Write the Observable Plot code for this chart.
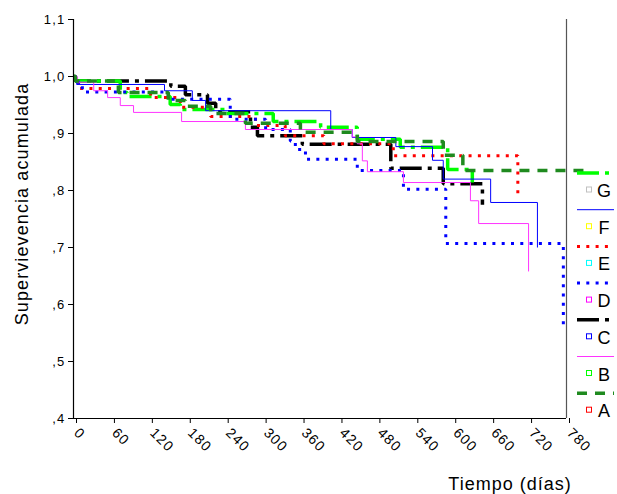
<!DOCTYPE html>
<html>
<head>
<meta charset="utf-8">
<script src="https://cdn.jsdelivr.net/npm/d3@7"></script>
<script src="https://cdn.jsdelivr.net/npm/@observablehq/plot@0.6"></script>
<style>
  html, body { margin: 0; padding: 0; background: #fff; }
  #chart { width: 617px; height: 494px; }
</style>
</head>
<body>
<div id="chart"></div>
<script>
// Kaplan-Meier steps: time (days) and cumulative survival
const groups = ["G", "F", "E", "D", "C", "B", "A"];
const A_t = [0, 3, 71, 150, 177, 217, 272, 359, 449, 585, 616, 807];
const A_s = [1.0, 0.992, 0.972, 0.958, 0.948, 0.935, 0.918, 0.902, 0.886, 0.862, 0.835, 0.835];
const B_t = [0, 6, 32, 54, 74, 95, 171, 272, 441, 449, 457, 465, 522, 628, 641, 720];
const B_s = [1.0, 0.99, 0.975, 0.963, 0.949, 0.937, 0.921, 0.907, 0.894, 0.882, 0.852, 0.833, 0.814, 0.782, 0.742, 0.658];
const C_t = [0, 3, 154, 177, 212, 225, 280, 291, 362, 502, 585, 647];
const C_s = [1.0, 0.992, 0.983, 0.968, 0.953, 0.938, 0.911, 0.896, 0.881, 0.839, 0.812, 0.775];
const D_t = [0, 8, 14, 150, 248, 304, 343, 351, 367, 449, 522, 589, 775];
const D_s = [1.0, 0.985, 0.973, 0.960, 0.925, 0.907, 0.887, 0.872, 0.855, 0.835, 0.802, 0.707, 0.56];
const E_t = [0, 8, 122, 169, 217, 288, 335, 396, 506, 703];
const E_s = [1.0, 0.979, 0.963, 0.946, 0.93, 0.914, 0.896, 0.882, 0.861, 0.795];
const F_t = [0, 5, 144, 188, 209, 407, 441, 510, 568, 585, 660, 734];
const F_s = [1.0, 0.986, 0.975, 0.958, 0.940, 0.907, 0.893, 0.877, 0.853, 0.82, 0.779, 0.70];
const G_t = [0, 3, 74, 85, 153, 169, 241, 316, 391, 449, 517, 592, 631];
const G_s = [1.0, 0.992, 0.972, 0.965, 0.951, 0.942, 0.935, 0.921, 0.911, 0.89, 0.876, 0.837, 0.814];
const xTicks = [0, 60, 120, 180, 240, 300, 360, 420, 480, 540, 600, 660, 720, 780];
const yTicks = [0.4, 0.5, 0.6, 0.7, 0.8, 0.9, 1.0, 1.1];

const series = {A: [A_t, A_s], B: [B_t, B_s], C: [C_t, C_s], D: [D_t, D_s], E: [E_t, E_s], F: [F_t, F_s], G: [G_t, G_s]};
const styles = {
  G: {stroke: "#00ff00", strokeWidth: 3.5, dash: "22,6,4,6", marker: "#c0c0c0"},
  F: {stroke: "#0000ff", strokeWidth: 1, dash: null, marker: "#ffff00"},
  E: {stroke: "#ff0000", strokeWidth: 3, dash: "3,6.3", marker: "#00ffff"},
  D: {stroke: "#0000ff", strokeWidth: 3, dash: "3,6.3", marker: "#ff00ff"},
  C: {stroke: "#000000", strokeWidth: 3.5, dash: "22,6,4,6", marker: "#0000ff"},
  B: {stroke: "#ff33ff", strokeWidth: 1, dash: null, marker: "#00ff00"},
  A: {stroke: "#1f8a1f", strokeWidth: 3.5, dash: "10,8", marker: "#ff0000"}
};
const drawOrder = ["C", "G", "E", "D", "F", "B", "A"];

const rows = k => series[k][0].map((t, i) => ({group: k, t, s: series[k][1][i]}));
const fmt = d => d.toFixed(1).replace(".", ",").replace(/^0/, "");

const plot = Plot.plot({
  width: 617,
  height: 494,
  marginLeft: 73,
  marginRight: 51,
  marginTop: 19,
  marginBottom: 76,
  style: {fontFamily: "'Liberation Sans', Arial, sans-serif", fontSize: "13px", color: "#000", background: "#fff", overflow: "visible"},
  x: {domain: [0, 780], label: null},
  y: {domain: [0.4, 1.1], label: null},
  marks: [
    Plot.axisY({ticks: yTicks, tickFormat: fmt, tickSize: 5, tickPadding: 3, fontSize: 13, label: null}),
    Plot.axisX({ticks: xTicks, tickFormat: d => String(d), tickSize: 5, tickPadding: 7, dx: 3, tickRotate: 45, textAnchor: "start", fontSize: 14, label: null}),
    ...drawOrder.map(k => Plot.line(rows(k), {
      x: "t", y: "s", curve: "step-after",
      stroke: styles[k].stroke, strokeWidth: styles[k].strokeWidth,
      strokeDasharray: styles[k].dash, strokeLinecap: "butt", strokeLinejoin: "miter"
    })),
    Plot.ruleX([0], {stroke: "#000", strokeWidth: 1.2}),
    Plot.ruleX([780], {stroke: "#555", strokeWidth: 1.2}),
    Plot.ruleY([0.4], {stroke: "#000", strokeWidth: 1.2})
  ]
});

document.getElementById("chart").appendChild(plot);

const svg = d3.select(plot);
svg.selectAll("g[aria-label='y-axis tick label'] text, g[aria-label='x-axis tick label'] text")
  .attr("letter-spacing", 1.2);
svg.append("text")
  .attr("transform", "translate(28,204) rotate(-90)")
  .attr("text-anchor", "middle")
  .attr("font-size", 18)
  .attr("letter-spacing", 1.1)
  .attr("fill", "#000")
  .text("Supervievencia acumulada");
svg.append("text")
  .attr("x", 510).attr("y", 490)
  .attr("text-anchor", "middle")
  .attr("font-size", 18)
  .attr("letter-spacing", 1)
  .attr("fill", "#000")
  .text("Tiempo (días)");

// legend (SPSS style: line sample, then censor marker and label)
const leg = svg.append("g");
groups.forEach((k, i) => {
  const y0 = 173 + i * 36.7;
  const st = styles[k];
  leg.append("line")
    .attr("x1", 577).attr("x2", 614).attr("y1", y0).attr("y2", y0)
    .attr("stroke", st.stroke).attr("stroke-width", st.strokeWidth)
    .attr("stroke-dasharray", st.dash).attr("stroke-linecap", "butt");
  leg.append("rect")
    .attr("x", 586.5).attr("y", y0 + 14).attr("width", 5).attr("height", 5)
    .attr("fill", "none").attr("stroke", st.marker).attr("stroke-width", 1);
  leg.append("text")
    .attr("x", 604).attr("y", y0 + 24)
    .attr("font-size", 18).attr("fill", "#000")
    .text(k);
});
</script>
</body>
</html>
